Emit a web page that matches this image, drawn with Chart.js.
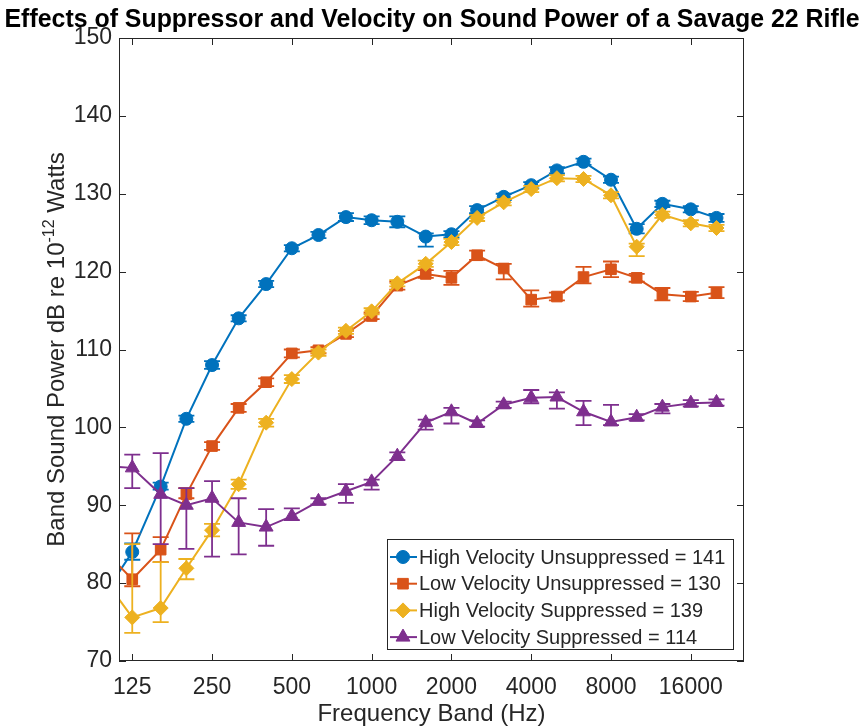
<!DOCTYPE html>
<html>
<head>
<meta charset="utf-8">
<script src="https://cdn.jsdelivr.net/npm/chart.js@4/dist/chart.umd.min.js"></script>
<style>
  html, body { margin: 0; padding: 0; background: #fff; }
  #wrap { width: 864px; height: 728px; }
</style>
</head>
<body>
<div id="wrap"><canvas id="chart" width="864" height="728"></canvas></div>
<script>
// 1/3 octave band centre frequencies (Hz)
const freqs = [100, 125, 160, 200, 250, 315, 400, 500, 630, 800, 1000, 1250,
               1600, 2000, 2500, 3150, 4000, 5000, 6300, 8000, 10000, 12500, 16000, 20000];
const xTickValues = [125, 250, 500, 1000, 2000, 4000, 8000, 16000];

const seriesLabels = [
  'High Velocity Unsuppressed = 141',
  'Low Velocity Unsuppressed = 130',
  'High Velocity Suppressed = 139',
  'Low Velocity Suppressed = 114'
];

// band sound power, dB re 1e-12 W
const hvUnsup = [79.0, 84.0, 92.4, 101.1, 108.0, 114.0, 118.4, 123.0, 124.7, 127.0, 126.6, 126.4,
                 124.5, 124.8, 127.9, 129.6, 131.1, 133.0, 134.1, 131.8, 125.5, 128.7, 128.0, 126.9];
const lvUnsup = [83.9, 80.5, 84.3, 91.4, 97.6, 102.5, 105.8, 109.5, 109.9, 112.0, 114.3, 118.2,
                 119.7, 119.2, 122.1, 120.4, 116.4, 116.8, 119.3, 120.3, 119.2, 117.1, 116.8, 117.3];
const hvSup   = [80.1, 75.6, 76.8, 81.9, 86.8, 92.7, 100.6, 106.2, 109.6, 112.4, 114.9, 118.5,
                 121.0, 123.8, 126.9, 128.9, 130.6, 132.0, 131.9, 129.8, 123.2, 127.3, 126.2, 125.6];
const lvSup   = [95.0, 94.8, 91.4, 90.0, 90.9, 87.8, 87.2, 88.6, 90.5, 91.8, 93.0, 96.3,
                 100.6, 102.0, 100.5, 102.9, 103.8, 103.9, 102.0, 100.7, 101.3, 102.6, 103.1, 103.2];

// error bar extents below / above each value (dB)
const hvUnsupLo = [0, 1.0, 0.4, 0.4, 0.5, 0.4, 0.4, 0.4, 0.4, 0.5, 0.5, 0.7, 1.3, 0.4, 0.4, 0.4, 0.4, 0.4, 0.4, 0.4, 0.6, 0.4, 0.4, 0.5];
const hvUnsupHi = [0, 1.1, 0.5, 0.4, 0.5, 0.4, 0.4, 0.4, 0.4, 0.5, 0.5, 0.7, 0.4, 0.4, 0.5, 0.4, 0.4, 0.4, 0.4, 0.4, 0.6, 0.4, 0.4, 0.5];
const lvUnsupLo = [0, 0.9, 1.6, 0.5, 0.5, 0.5, 0.5, 0.5, 0.4, 0.4, 0.4, 0.5, 0.5, 0.9, 0.6, 1.4, 0.9, 0.5, 0.8, 1.0, 0.5, 0.8, 0.6, 0.7];
const lvUnsupHi = [0, 5.9, 1.6, 0.8, 0.5, 0.5, 0.5, 0.5, 0.4, 0.4, 0.4, 0.5, 0.5, 0.9, 0.6, 0.6, 1.2, 0.5, 1.3, 1.0, 0.5, 0.8, 0.6, 0.7];
const hvSupLo   = [0, 2.0, 1.8, 1.4, 0.8, 0.6, 0.5, 0.5, 0.4, 0.4, 0.4, 0.4, 0.4, 0.4, 0.4, 0.4, 0.4, 0.4, 0.4, 0.4, 1.2, 0.4, 0.4, 0.4];
const hvSupHi   = [0, 9.4, 5.9, 1.2, 0.8, 0.6, 0.5, 0.5, 0.4, 0.4, 0.4, 0.4, 0.4, 0.4, 0.4, 0.4, 0.4, 0.4, 0.4, 0.4, 0.4, 0.4, 0.4, 0.4];
const lvSupLo   = [0, 2.6, 6.4, 5.6, 7.5, 4.1, 2.4, 0.5, 0.4, 1.5, 1.0, 0.5, 0.9, 1.5, 0.4, 0.4, 0.7, 1.5, 1.7, 0.4, 0.4, 0.8, 0.4, 0.4];
const lvSupHi   = [0, 1.7, 5.3, 2.2, 2.2, 3.1, 2.3, 1.0, 0.4, 0.9, 0.3, 0.5, 0.4, 0.5, 0.4, 0.4, 1.0, 0.6, 1.4, 2.2, 0.4, 0.4, 0.4, 0.4];

const TEXT = '#262626';
const FONT = '"Liberation Sans", Arial, Helvetica, sans-serif';

const styles = [
  { color: '#0072BD', point: 'circle',   radius: 6.5 },
  { color: '#D95319', point: 'rect',     radius: 7.5 },
  { color: '#EDB120', point: 'rectRot',  radius: 7.5 },
  { color: '#7E2F8E', point: 'triangle', radius: 8 }
];
const values = [hvUnsup, lvUnsup, hvSup, lvSup];
const errLo = [hvUnsupLo, lvUnsupLo, hvSupLo, lvSupLo];
const errHi = [hvUnsupHi, lvUnsupHi, hvSupHi, lvSupHi];

const datasets = values.map((vals, k) => ({
  label: seriesLabels[k],
  data: vals.map((v, i) => ({ x: freqs[i], y: v })),
  errLo: errLo[k],
  errHi: errHi[k],
  borderColor: styles[k].color,
  backgroundColor: styles[k].color,
  borderWidth: 2,
  pointStyle: styles[k].point,
  pointRadius: styles[k].radius,
  pointBorderWidth: 1,
  tension: 0,
  clip: 0,
  order: 4 - k   // later series drawn on top, like MATLAB
}));

// error bars drawn just before each dataset
const errorBars = {
  id: 'errorBars',
  beforeDatasetDraw(chart, args) {
    const ds = chart.data.datasets[args.index];
    const ys = chart.scales.y;
    const a = chart.chartArea;
    const ctx = chart.ctx;
    ctx.save();
    ctx.beginPath();
    ctx.rect(a.left, a.top, a.right - a.left, a.bottom - a.top);
    ctx.clip();
    ctx.strokeStyle = ds.borderColor;
    ctx.lineWidth = 1.8;
    args.meta.data.forEach((pt, i) => {
      const v = ds.data[i].y;
      const top = ys.getPixelForValue(v + ds.errHi[i]);
      const bot = ys.getPixelForValue(v - ds.errLo[i]);
      const cap = 8;
      ctx.beginPath();
      ctx.moveTo(pt.x, top); ctx.lineTo(pt.x, bot);
      ctx.moveTo(pt.x - cap, top); ctx.lineTo(pt.x + cap, top);
      ctx.moveTo(pt.x - cap, bot); ctx.lineTo(pt.x + cap, bot);
      ctx.stroke();
    });
    ctx.restore();
  }
};

// MATLAB-like box with inward ticks on all four sides
const axesBox = {
  id: 'axesBox',
  afterDatasetsDraw(chart) {
    const { ctx, chartArea: a, scales } = chart;
    const len = 7;
    ctx.save();
    ctx.strokeStyle = TEXT;
    ctx.lineWidth = 1;
    ctx.strokeRect(a.left + 0.5, a.top + 0.5, a.right - a.left - 1, a.bottom - a.top - 1);
    ctx.beginPath();
    scales.x.ticks.forEach(t => {
      const x = Math.round(scales.x.getPixelForValue(t.value)) + 0.5;
      ctx.moveTo(x, a.bottom); ctx.lineTo(x, a.bottom - len);
      ctx.moveTo(x, a.top); ctx.lineTo(x, a.top + len);
    });
    scales.y.ticks.forEach(t => {
      const y = Math.round(scales.y.getPixelForValue(t.value)) + 0.5;
      ctx.moveTo(a.left, y); ctx.lineTo(a.left + len, y);
      ctx.moveTo(a.right, y); ctx.lineTo(a.right - len, y);
    });
    ctx.stroke();
    ctx.restore();
  }
};

// titles and legend
const textLayer = {
  id: 'textLayer',
  afterDraw(chart) {
    const { ctx, chartArea: a } = chart;
    ctx.save();

    // main title, fitted to the width seen in the figure
    ctx.fillStyle = '#000';
    ctx.font = 'bold 24px ' + FONT;
    ctx.textBaseline = 'alphabetic';
    ctx.textAlign = 'center';
    const title = 'Effects of Suppressor and Velocity on Sound Power of a Savage 22 Rifle';
    const tw = ctx.measureText(title).width;
    ctx.save();
    ctx.translate(432, 27);
    ctx.scale(855 / tw, 1.1);
    ctx.fillText(title, 0, 0);
    ctx.restore();

    // x axis title
    ctx.fillStyle = TEXT;
    ctx.font = '24px ' + FONT;
    ctx.fillText('Frequency Band (Hz)', (a.left + a.right) / 2, 721);

    // y axis title with superscript
    const main = 'Band Sound Power dB re 10';
    const sup = '-12';
    const tail = ' Watts';
    ctx.font = '24px ' + FONT;
    const w1 = ctx.measureText(main).width;
    const w3 = ctx.measureText(tail).width;
    ctx.font = '16px ' + FONT;
    const w2 = ctx.measureText(sup).width;
    const total = w1 + w2 + w3;
    ctx.save();
    ctx.translate(64, (a.top + a.bottom) / 2);
    ctx.rotate(-Math.PI / 2);
    ctx.textAlign = 'left';
    let x0 = -total / 2;
    ctx.font = '24px ' + FONT;
    ctx.fillText(main, x0, 0);
    ctx.font = '16px ' + FONT;
    ctx.fillText(sup, x0 + w1, -10);
    ctx.font = '24px ' + FONT;
    ctx.fillText(tail, x0 + w1 + w2, 0);
    ctx.restore();

    // legend box inside the axes, lower right
    const box = { left: 387, top: 539, right: 733, bottom: 649 };
    ctx.fillStyle = '#fff';
    ctx.fillRect(box.left, box.top, box.right - box.left, box.bottom - box.top);
    ctx.strokeStyle = TEXT;
    ctx.lineWidth = 1;
    ctx.strokeRect(box.left + 0.5, box.top + 0.5, box.right - box.left, box.bottom - box.top);
    const rowH = 26.7;
    chart.data.datasets.forEach((ds, k) => {
      const y = box.top + 18 + k * rowH;
      ctx.strokeStyle = ds.borderColor;
      ctx.fillStyle = ds.backgroundColor;
      ctx.lineWidth = 2;
      ctx.beginPath();
      ctx.moveTo(box.left + 3, y); ctx.lineTo(box.left + 30, y);
      ctx.stroke();
      ctx.lineWidth = 1;
      Chart.helpers.drawPoint(ctx, {
        pointStyle: ds.pointStyle, radius: ds.pointRadius, rotation: 0, borderWidth: 1
      }, box.left + 16, y);
      ctx.fillStyle = TEXT;
      ctx.font = '20px ' + FONT;
      ctx.textAlign = 'left';
      ctx.textBaseline = 'middle';
      ctx.fillText(seriesLabels[k], box.left + 32, y + 1);
    });
    ctx.restore();
  }
};

new Chart(document.getElementById('chart'), {
  type: 'line',
  data: { datasets },
  options: {
    responsive: false,
    animation: false,
    events: [],
    layout: { padding: { left: 0, right: 120, top: 38, bottom: 0 } },
    plugins: {
      legend: { display: false },
      tooltip: { enabled: false },
      title: { display: false }
    },
    scales: {
      x: {
        type: 'logarithmic',
        min: 111.4,
        max: 25400,
        grid: { display: false, drawTicks: false },
        border: { display: false },
        afterBuildTicks: s => { s.ticks = xTickValues.map(v => ({ value: v })); },
        afterFit: s => { s.height = 67; },
        ticks: {
          autoSkip: false, maxRotation: 0, minRotation: 0, padding: 13,
          color: TEXT, font: { family: FONT, size: 23 },
          callback: v => String(v)
        }
      },
      y: {
        min: 70,
        max: 150,
        grid: { display: false, drawTicks: false },
        border: { display: false },
        afterFit: s => { s.width = 119; },
        ticks: {
          stepSize: 10, padding: 7,
          color: TEXT, font: { family: FONT, size: 23 }
        }
      }
    }
  },
  plugins: [errorBars, axesBox, textLayer]
});
</script>
</body>
</html>
